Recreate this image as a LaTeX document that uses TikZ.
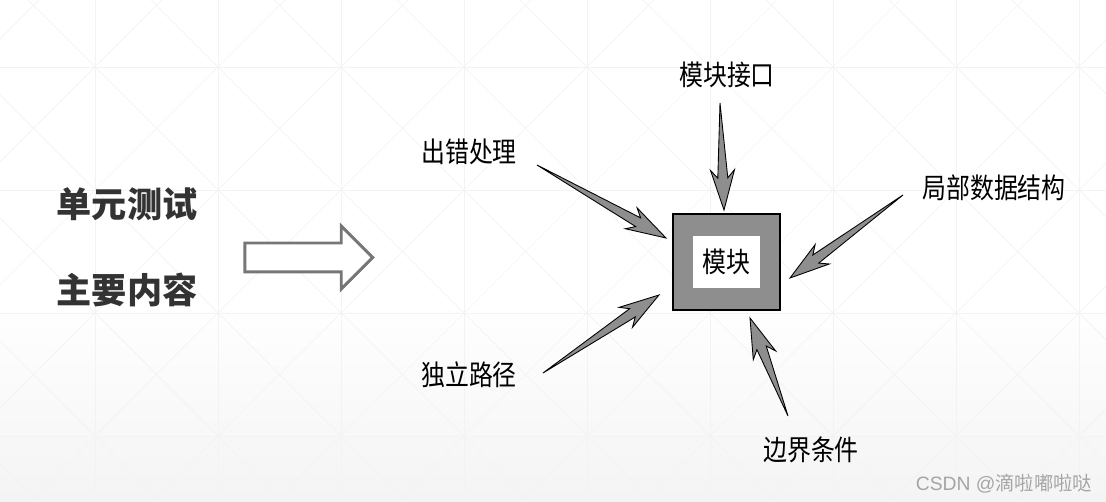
\documentclass[tikz,border=0pt]{standalone}
\usepackage{fontspec}
\setmainfont{Liberation Sans}
\newfontfamily\cjk{Noto Sans CJK SC}
\usetikzlibrary{calc,positioning,shapes.arrows}
\definecolor{ArrowGray}{HTML}{8E8E8E}
\definecolor{OutlineGray}{HTML}{767676}
\definecolor{TitleBlack}{HTML}{333333}
\definecolor{MarkGray}{HTML}{A5A5A5}
\definecolor{GridGray}{HTML}{F3F3F3}
\definecolor{BackGray}{HTML}{F4F4F4}
\tikzset{
    % Text styles
    titletext/.style={
        font=\cjk\bfseries\fontsize{20}{24}\selectfont,
        text=TitleBlack,
        inner sep=0pt
    },
    labeltext/.style={
        font=\cjk\fontsize{16}{18}\selectfont,
        xscale=0.85,
        inner sep=0pt
    },
    marktext/.style={
        font=\fontsize{11}{13}\selectfont,
        text=MarkGray,
        inner sep=0pt
    },
    % Box styles
    modbox/.style={
        rectangle,
        draw=black,
        fill=ArrowGray,
        line width=0.6pt,
        minimum width=2.14cm,
        minimum height=1.92cm
    },
    innerbox/.style={
        rectangle,
        fill=white,
        minimum width=1.58cm,
        minimum height=1.04cm
    },
    % Arrow styles
    taper/.style={
        draw=black,
        fill=ArrowGray,
        line width=0.5pt,
        line join=miter
    },
    hollowarrow/.style={
        single arrow,
        draw=OutlineGray,
        fill=white,
        line width=1.7pt,
        minimum height=2.56cm,
        inner xsep=0pt,
        inner ysep=0.26cm,
        single arrow head extend=0.34cm
    }
}
% tapered arrow from tail #1 to tip #2
\newcommand{\taperarrow}[2]{%
    \coordinate (barb) at ($(#2)!0.8cm!(#1)$);
    \coordinate (notch) at ($(#2)!0.64cm!(#1)$);
    \filldraw[taper] (#1) -- ($(notch)!0.1cm!90:(#2)$) -- ($(barb)!0.24cm!90:(#2)$) -- (#2)
        -- ($(barb)!0.24cm!-90:(#2)$) -- ($(notch)!0.1cm!-90:(#2)$) -- cycle;
}

\begin{document}
\begin{tikzpicture}[x=0.02cm, y=-0.02cm]
    \useasboundingbox (0,0) rectangle (1106,502);
    % Background
    \shade[top color=white, bottom color=BackGray] (0,300) rectangle (1106,502);
    \begin{scope}
        \clip (0,0) rectangle (1106,502);
        \foreach \k in {-1,...,9} {
            \draw[GridGray, line width=0.4pt] (95+123*\k,0) -- (95+123*\k,502);
            \draw[GridGray, line width=0.4pt] (0,67+123*\k) -- (1106,67+123*\k);
        }
        \foreach \k in {-6,...,14} {
            \draw[GridGray, line width=0.4pt] (95+123*\k-700,67-700) -- (95+123*\k+700,67+700);
            \draw[GridGray, line width=0.4pt] (95+123*\k+700,67-700) -- (95+123*\k-700,67+700);
        }
    \end{scope}

    % Left titles
    \node[titletext] (title1) at (127,204) {单元测试};
    \node[titletext] (title2) at (127,290) {主要内容};
    \node[hollowarrow] (bigarrow) at (301.5,257.5) {};

    % Module
    \node[modbox] (mod) at (726.5,262) {};
    \node[innerbox, labeltext] (modin) at (726.5,262) {模块};

    % Labels
    \node[labeltext] (iface) at (727,75) {模块接口};
    \node[labeltext] (err) at (469,152) {出错处理};
    \node[labeltext] (local) at (994,188) {局部数据结构};
    \node[labeltext] (path) at (469,375) {独立路径};
    \node[labeltext] (bound) at (811,450) {边界条件};

    % Arrow ends
    \coordinate (ifacetail) at (720,103);
    \coordinate (ifacetip) at (724,210);
    \coordinate (errtail) at (537,165);
    \coordinate (errtip) at (666,238);
    \coordinate (localtail) at (903,195);
    \coordinate (localtip) at (790,278);
    \coordinate (pathtail) at (543,373);
    \coordinate (pathtip) at (659,295);
    \coordinate (boundtail) at (788,416);
    \coordinate (boundtip) at (750,318);

    \taperarrow{ifacetail}{ifacetip}
    \taperarrow{errtail}{errtip}
    \taperarrow{localtail}{localtip}
    \taperarrow{pathtail}{pathtip}
    \taperarrow{boundtail}{boundtip}

    % Watermark
    \node[marktext] (mark) at (1004,484) {CSDN @{\cjk 滴啦嘟啦哒}};
\end{tikzpicture}
\end{document}
